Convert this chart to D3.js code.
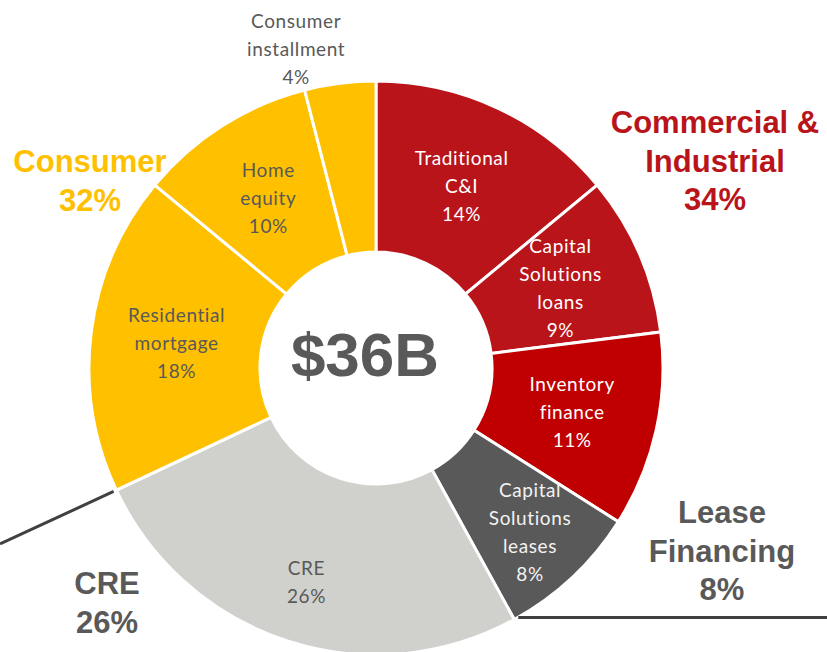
<!DOCTYPE html>
<html>
<head>
<meta charset="utf-8">
<script src="https://cdn.jsdelivr.net/npm/d3@7"></script>
<style>
  body { margin: 0; background: #fff; }
  svg { display: block; }
</style>
</head>
<body>
<div id="chart"></div>
<script>
// loan book segments, clockwise from 12 o'clock
var segments = ["Traditional C&I", "Capital Solutions loans", "Inventory finance",
  "Capital Solutions leases", "CRE", "Residential mortgage", "Home equity", "Consumer installment"];
var shares = [14, 9, 11, 8, 26, 18, 10, 4];
var segmentLines = [["Traditional", "C&I"], ["Capital", "Solutions", "loans"], ["Inventory", "finance"],
  ["Capital", "Solutions", "leases"], ["CRE"], ["Residential", "mortgage"], ["Home", "equity"],
  ["Consumer", "installment"]];
var segmentGroup = ["ci", "ci", "ci", "lease", "cre", "consumer", "consumer", "consumer"];

// group call-outs
var groupKeys = ["ci", "lease", "cre", "consumer"];
var groupLines = [["Commercial &", "Industrial"], ["Lease", "Financing"], ["CRE"], ["Consumer"]];
var groupShares = [34, 8, 26, 32];
var totalLabel = "$36B";

var W = 827, H = 652;
var cx = 376, cy = 368, R = 287, r0 = 116;

var sliceFill = ["#b9141a", "#b9141a", "#c00000", "#595959", "#d0d0cc", "#ffc000", "#ffc000", "#ffc000"];
var sliceText = ["#ffffff", "#ffffff", "#ffffff", "#f2f2f2", "#595959", "#595959", "#595959", "#595959"];
var groupColor = d3.scaleOrdinal().domain(groupKeys).range(["#b9141a", "#595959", "#595959", "#ffc000"]);

var svg = d3.select("#chart").append("svg").attr("width", W).attr("height", H);
var g = svg.append("g").attr("transform", "translate(" + cx + "," + cy + ")");

var pie = d3.pie().sort(null).value(function(d) { return d; });
var arcs = pie(shares);
var arc = d3.arc().innerRadius(r0).outerRadius(R);

g.selectAll("path.slice").data(arcs)
  .enter().append("path")
    .attr("class", "slice")
    .attr("d", arc)
    .attr("fill", function(d, i) { return sliceFill[i]; })
    .attr("stroke", "#ffffff")
    .attr("stroke-width", 3);

// leader lines from the CRE slice edges
function edge(angle, rad) {
  return [rad * Math.sin(angle), -rad * Math.cos(angle)];
}
var creArc = arcs[4];
var p1 = edge(creArc.endAngle, R + 3);
var dir = [Math.sin(creArc.endAngle), -Math.cos(creArc.endAngle)];
var t = (-cx - p1[0]) / dir[0];
g.append("line")
  .attr("x1", p1[0]).attr("y1", p1[1])
  .attr("x2", -cx).attr("y2", p1[1] + dir[1] * t * 0.98)
  .attr("stroke", "#404040").attr("stroke-width", 3);
var p2 = edge(creArc.startAngle, R);
g.append("line")
  .attr("x1", p2[0] + 4).attr("y1", p2[1] - 2)
  .attr("x2", W - cx).attr("y2", p2[1] - 2)
  .attr("stroke", "#404040").attr("stroke-width", 3);

// segment labels
var lineGap = 28;
var inner = d3.arc().innerRadius(201).outerRadius(201);
var lower = d3.arc().innerRadius(225).outerRadius(225);
var outer = d3.arc().innerRadius(318).outerRadius(318);
var labels = g.selectAll("text.seg").data(arcs)
  .enter().append("text")
    .attr("class", "seg")
    .attr("text-anchor", "middle")
    .attr("font-family", "Lato, 'Open Sans', sans-serif")
    .attr("font-size", 19)
    .attr("letter-spacing", 0.6)
    .attr("fill", function(d, i) { return sliceText[i]; })
    .attr("transform", function(d, i) {
      var mid = (d.startAngle + d.endAngle) / 2;
      var c;
      if (i === segments.length - 1) {
        c = outer.centroid(d); c[0] -= 40; c[1] -= 4;
      } else if (mid > 2.2 && mid < 4.0) {
        c = lower.centroid(d);
      } else {
        c = inner.centroid(d);
      }
      return "translate(" + c[0] + "," + c[1] + ")";
    });
labels.each(function(d, i) {
  var lines = segmentLines[i].concat([shares[i] + "%"]);
  var n = lines.length;
  d3.select(this).selectAll("tspan").data(lines)
    .enter().append("tspan")
      .attr("x", 0)
      .attr("y", function(s, k) { return -(n - 1) * lineGap / 2 + k * lineGap + 7; })
      .text(function(s) { return s; });
});

// centre total
g.append("text")
  .attr("x", -11).attr("y", 8)
  .attr("text-anchor", "middle")
  .attr("font-family", "'Liberation Sans', Arial, sans-serif")
  .attr("font-weight", "bold")
  .attr("font-size", 62)
  .attr("fill", "#595959")
  .text(totalLabel);

// group call-outs (placed in page coordinates)
var groupPos = d3.scaleOrdinal().domain(groupKeys).range([[715, 133], [722, 523], [107, 594], [90, 172]]);
var bigGap = 38.5;
groupKeys.forEach(function(k, i) {
  var pos = groupPos(k);
  var lines = groupLines[i].concat([groupShares[i] + "%"]);
  svg.append("text")
    .attr("text-anchor", "middle")
    .attr("font-family", "'Liberation Sans', Arial, sans-serif")
    .attr("font-weight", "bold")
    .attr("font-size", 31)
    .attr("fill", groupColor(k))
    .selectAll("tspan").data(lines)
    .enter().append("tspan")
      .attr("x", pos[0])
      .attr("y", function(s, j) { return pos[1] + j * bigGap; })
      .text(function(s) { return s; });
});
</script>
</body>
</html>
